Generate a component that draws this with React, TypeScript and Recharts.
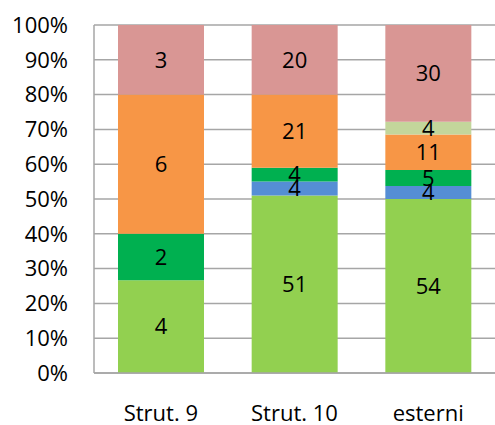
import React from 'react';
import { BarChart, Bar, XAxis, YAxis, CartesianGrid, LabelList } from 'recharts';

const categories = ['Strut. 9', 'Strut. 10', 'esterni'];

const serieA = [4, 51, 54];
const serieB = [0, 4, 4];
const serieC = [2, 4, 5];
const serieD = [6, 21, 11];
const serieE = [0, 0, 4];
const serieF = [3, 20, 30];

const yTicks = [0, 0.1, 0.2, 0.3, 0.4, 0.5, 0.6, 0.7, 0.8, 0.9, 1];

const series = [
  { key: 'a', values: serieA, color: '#92D050' },
  { key: 'b', values: serieB, color: '#558ED5' },
  { key: 'c', values: serieC, color: '#00B050' },
  { key: 'd', values: serieD, color: '#F79646' },
  { key: 'e', values: serieE, color: '#C3D69B' },
  { key: 'f', values: serieF, color: '#D99694' },
];

const data = categories.map((name, i) => {
  const row: Record<string, string | number> = { name };
  series.forEach((s) => {
    row[s.key] = s.values[i];
  });
  return row;
});

const FONT = '"Open Sans", sans-serif';
const GRID = '#a6a6a6';

export default function App() {
  return (
    <div style={{ position: 'absolute', left: 0, top: 0, width: 495, height: 425, background: '#fff' }}>
      <BarChart
        width={495}
        height={425}
        data={data}
        stackOffset="expand"
        margin={{ top: 25, right: 0, bottom: 0, left: 0 }}
        barSize={86}
      >
        <CartesianGrid vertical={false} stroke={GRID} strokeWidth={1.5} />
        <XAxis
          dataKey="name"
          height={52}
          tickSize={0}
          tickMargin={32}
          axisLine={{ stroke: GRID, strokeWidth: 1.5 }}
          tickLine={false}
          tick={{ fill: '#000', fontSize: 22, fontFamily: FONT }}
        />
        <YAxis
          width={94}
          domain={[0, 1]}
          ticks={yTicks}
          tickFormatter={(v: number) => `${Math.round(v * 100)}%`}
          tickSize={0}
          tickMargin={26}
          axisLine={{ stroke: GRID, strokeWidth: 1.5 }}
          tickLine={false}
          tick={{ fill: '#000', fontSize: 22, fontFamily: FONT }}
          interval={0}
        />
        {series.map((s) => (
          <Bar key={s.key} dataKey={s.key} stackId="s" fill={s.color} isAnimationActive={false}>
            <LabelList
              dataKey={s.key}
              position="center"
              formatter={(v: number) => (v ? String(v) : '')}
              style={{ fill: '#000', fontSize: 22, fontFamily: FONT }}
            />
          </Bar>
        ))}
      </BarChart>
    </div>
  );
}
